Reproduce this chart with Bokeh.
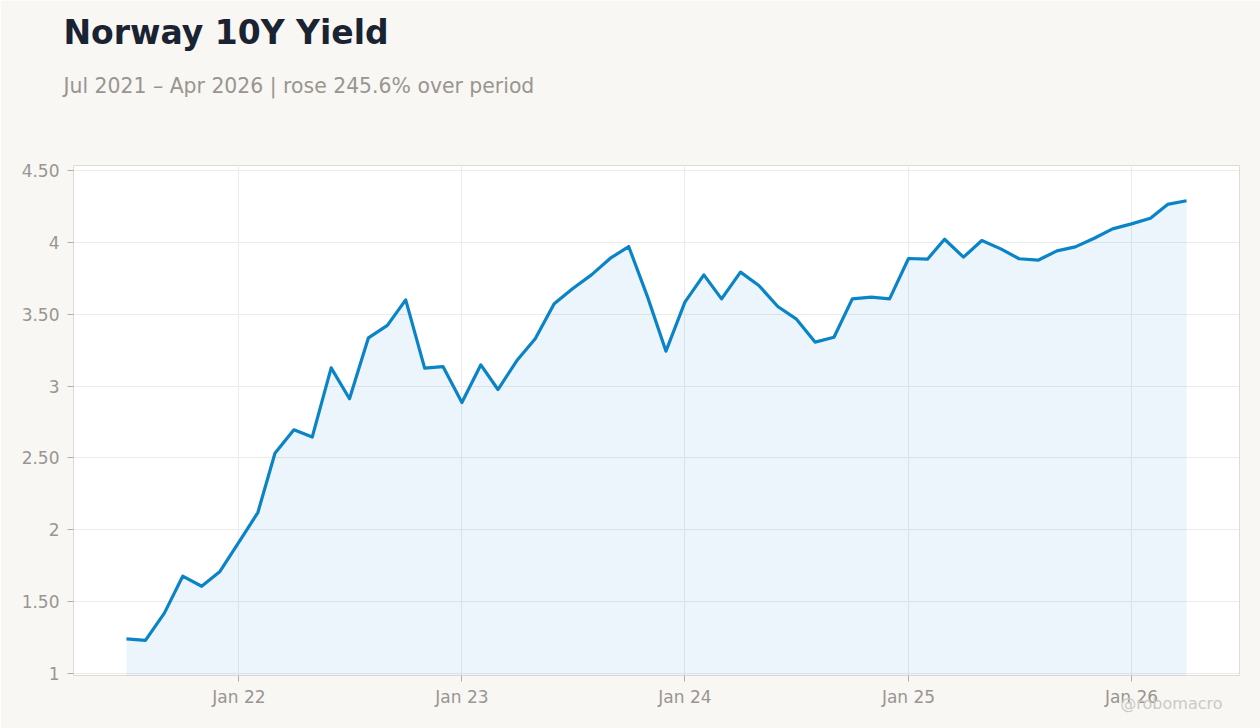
import datetime as dt

import numpy as np
import pandas as pd

import bokeh.plotting as bk
from bokeh.models import (ColumnDataSource, Range1d, FixedTicker, Title,
                          DatetimeTickFormatter, CustomJSTickFormatter)
from bokeh.embed import file_html
from bokeh.resources import INLINE

#- monthly Norway 10Y yield, Jul 2021 .. Apr 2026
start_month = "2021-07-01"
yields = [
    1.241, 1.230, 1.420, 1.677, 1.607, 1.710,                             # 2021 H2
    1.914, 2.120, 2.533, 2.696, 2.645, 3.127, 2.912, 3.336, 3.422, 3.600, 3.125, 3.136,  # 2022
    2.886, 3.148, 2.976, 3.178, 3.329, 3.573, 3.677, 3.774, 3.890, 3.971, 3.619, 3.243,  # 2023
    3.584, 3.774, 3.607, 3.793, 3.700, 3.554, 3.468, 3.306, 3.340, 3.607, 3.619, 3.607,  # 2024
    3.888, 3.883, 4.022, 3.897, 4.013, 3.955, 3.886, 3.876, 3.941, 3.969, 4.029, 4.094,  # 2025
    4.129, 4.168, 4.264, 4.290,                                           # 2026
]
tick_years = [2022, 2023, 2024, 2025, 2026]
y_ticks = [1, 1.5, 2, 2.5, 3, 3.5, 4, 4.5]

title_text = "Norway 10Y Yield"
subtitle_text = "Jul 2021 \u2013 Apr 2026 | rose 245.6% over period"
credit_text = "@robomacro"

BG = "#f8f7f4"
LINE = "#0a84c6"
MUTED = "#999590"

dates = pd.date_range(start_month, periods=len(yields), freq="MS")
y_low, y_high = 0.986, 4.535

source = ColumnDataSource(data=dict(date=dates, y=yields, base=[y_low] * len(yields)))

span = dates[-1] - dates[0]
x_range = Range1d(dates[0] - span * 0.05, dates[-1] + span * 0.05)

p = bk.figure(width=1260, height=728, x_axis_type="datetime",
              x_range=x_range, y_range=Range1d(y_low, y_high),
              output_backend="svg", toolbar_location=None, tools="")

p.background_fill_color = "white"
p.border_fill_color = BG
p.outline_line_color = "#dedbd6"
p.min_border_left = 73
p.min_border_right = 21
p.min_border_bottom = 53
p.min_border_top = 165

#- titles: subtitle first (nearest the frame); the big standoffs just place the text
p.add_layout(Title(text=subtitle_text, text_font="DejaVu Sans", text_font_size="20.4px",
                   text_font_style="normal", text_color=MUTED, offset=-10, standoff=135), "above")
p.add_layout(Title(text=title_text, text_font="DejaVu Sans", text_font_size="33px",
                   text_font_style="bold", text_color="#1a2332", offset=-10, standoff=-95), "above")

#- area + line
p.varea(x="date", y1="base", y2="y", source=source, fill_color=LINE, fill_alpha=0.08)
p.line(x="date", y="y", source=source, line_color=LINE, line_width=3.2, line_join="round")

#- axes
p.xaxis.ticker = FixedTicker(ticks=[dt.datetime(yr, 1, 1).timestamp() * 1000 for yr in tick_years])
p.xaxis.formatter = DatetimeTickFormatter(days="%b %y", months="%b %y", years="%b %y")
p.yaxis.ticker = FixedTicker(ticks=y_ticks)
p.yaxis.formatter = CustomJSTickFormatter(
    code="return (tick % 1 === 0) ? tick.toFixed(0) : tick.toFixed(2);")

for ax in (p.xaxis, p.yaxis):
    ax.axis_line_color = None
    ax.major_tick_line_color = "#b0aca7"
    ax.major_tick_in = 0
    ax.major_tick_out = 6
    ax.minor_tick_line_color = None
    ax.major_label_text_color = MUTED
    ax.major_label_text_font = "DejaVu Sans"
    ax.major_label_text_font_size = "17px"
p.xaxis.major_label_standoff = 5
p.yaxis.major_label_standoff = 8

p.grid.grid_line_color = "#ebebeb"
p.grid.grid_line_width = 1

#- credit, bottom right, tucked up against the axis labels
p.add_layout(Title(text=credit_text, align="right", vertical_align="top", offset=17, standoff=-32,
                   text_font="DejaVu Sans", text_font_size="16px",
                   text_font_style="normal", text_color="#cdc9c4"), "below")

open("out.html", "w").write(file_html(p, INLINE))
